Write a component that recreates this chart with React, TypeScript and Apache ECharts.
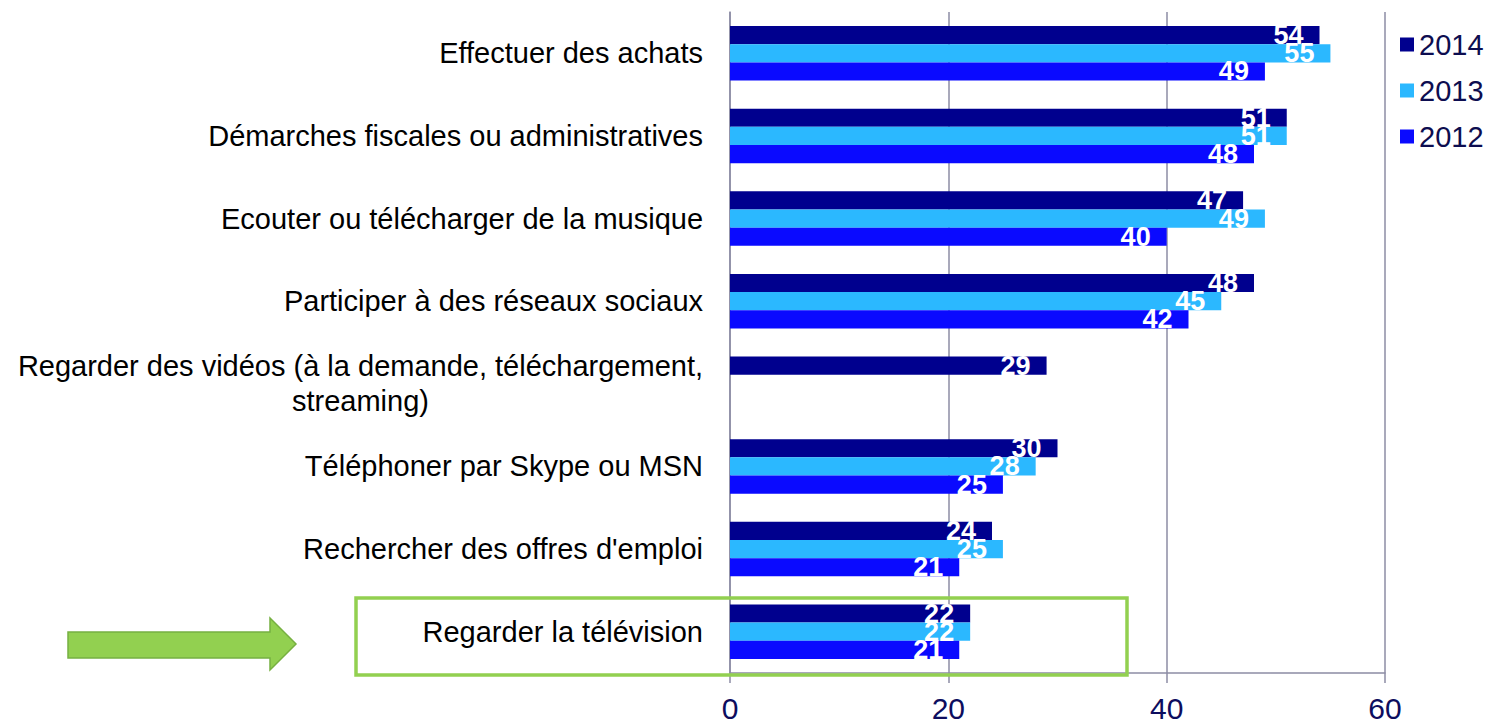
import React, { useEffect, useRef } from "react";
import * as echarts from "echarts";

const categories: string[] = [
  "Effectuer des achats",
  "Démarches fiscales ou administratives",
  "Ecouter ou télécharger de la musique",
  "Participer à des réseaux sociaux",
  "Regarder des vidéos (à la demande, téléchargement,\nstreaming)",
  "Téléphoner par Skype ou MSN",
  "Rechercher des offres d'emploi",
  "Regarder la télévision",
];

const seriesNames: string[] = ["2014", "2013", "2012"];
const values2014: (number | null)[] = [54, 51, 47, 48, 29, 30, 24, 22];
const values2013: (number | null)[] = [55, 51, 49, 45, null, 28, 25, 22];
const values2012: (number | null)[] = [49, 48, 40, 42, null, 25, 21, 21];
const seriesColors: string[] = ["#00008E", "#2BB8FF", "#0A0AFF"];
const xTicks = { min: 0, max: 60, interval: 20 };

const FONT = "'Liberation Sans', Arial, Helvetica, sans-serif";

export default function App() {
  const ref = useRef<HTMLDivElement>(null);

  useEffect(() => {
    if (!ref.current) return;
    const chart = echarts.init(ref.current, undefined, { renderer: "svg" });
    const allValues = [values2014, values2013, values2012];
    const labelStyle = {
      show: true,
      position: "insideRight" as const,
      distance: 16,
      color: "#ffffff",
      fontWeight: "bold" as const,
      fontSize: 27,
      fontFamily: FONT,
    };
    chart.setOption({
      animation: false,
      backgroundColor: "#ffffff",
      grid: { left: 730, right: 101, top: 12, bottom: 52, containLabel: false },
      legend: {
        orient: "vertical",
        left: 1395,
        top: 25,
        icon: "rect",
        itemWidth: 14,
        itemHeight: 14,
        itemGap: 17,
        data: seriesNames,
        textStyle: { fontSize: 29, color: "#0D0D50", fontFamily: FONT, padding: [0, 0, 0, 0] },
      },
      xAxis: {
        type: "value",
        min: xTicks.min,
        max: xTicks.max,
        interval: xTicks.interval,
        axisLine: { show: true, lineStyle: { color: "#8C8CA4", width: 1.5 } },
        axisTick: { show: true, length: 10, lineStyle: { color: "#8C8CA4", width: 1.5 } },
        splitLine: { show: true, lineStyle: { color: "#8C8CA4", width: 1.5 } },
        axisLabel: { fontSize: 30, lineHeight: 26, color: "#0D0D5E", fontFamily: FONT, margin: 22 },
      },
      yAxis: {
        type: "category",
        inverse: true,
        data: categories,
        axisLine: { show: true, lineStyle: { color: "#8C8CA4", width: 1.5 } },
        axisTick: { show: false },
        axisLabel: {
          margin: 27,
          align: "right",
          formatter: (v: string) => v.split("\n").map((l) => `{c|${l}}`).join("\n"),
          rich: {
            c: { fontSize: 29, lineHeight: 35, align: "center", color: "#000000", fontFamily: FONT },
          },
        },
      },
      series: seriesNames.map((name, i) => ({
        name,
        type: "bar",
        data: allValues[i],
        barGap: "0%",
        barCategoryGap: "34%",
        itemStyle: { color: seriesColors[i] },
        label: labelStyle,
      })),
      graphic: [
        {
          type: "rect",
          z: 100,
          shape: { x: 356, y: 598, width: 771, height: 77 },
          style: { fill: "none", stroke: "#92D050", lineWidth: 3.5 },
        },
        {
          type: "polygon",
          z: 100,
          shape: {
            points: [
              [68, 632],
              [270, 632],
              [270, 618],
              [296, 644],
              [270, 670],
              [270, 658],
              [68, 658],
            ],
          },
          style: { fill: "#92D050", stroke: "#76B041", lineWidth: 1.5 },
        },
      ],
    });
    return () => chart.dispose();
  }, []);

  return <div ref={ref} style={{ width: 1486, height: 725, position: "absolute", left: 0, top: 0 }} />;
}
